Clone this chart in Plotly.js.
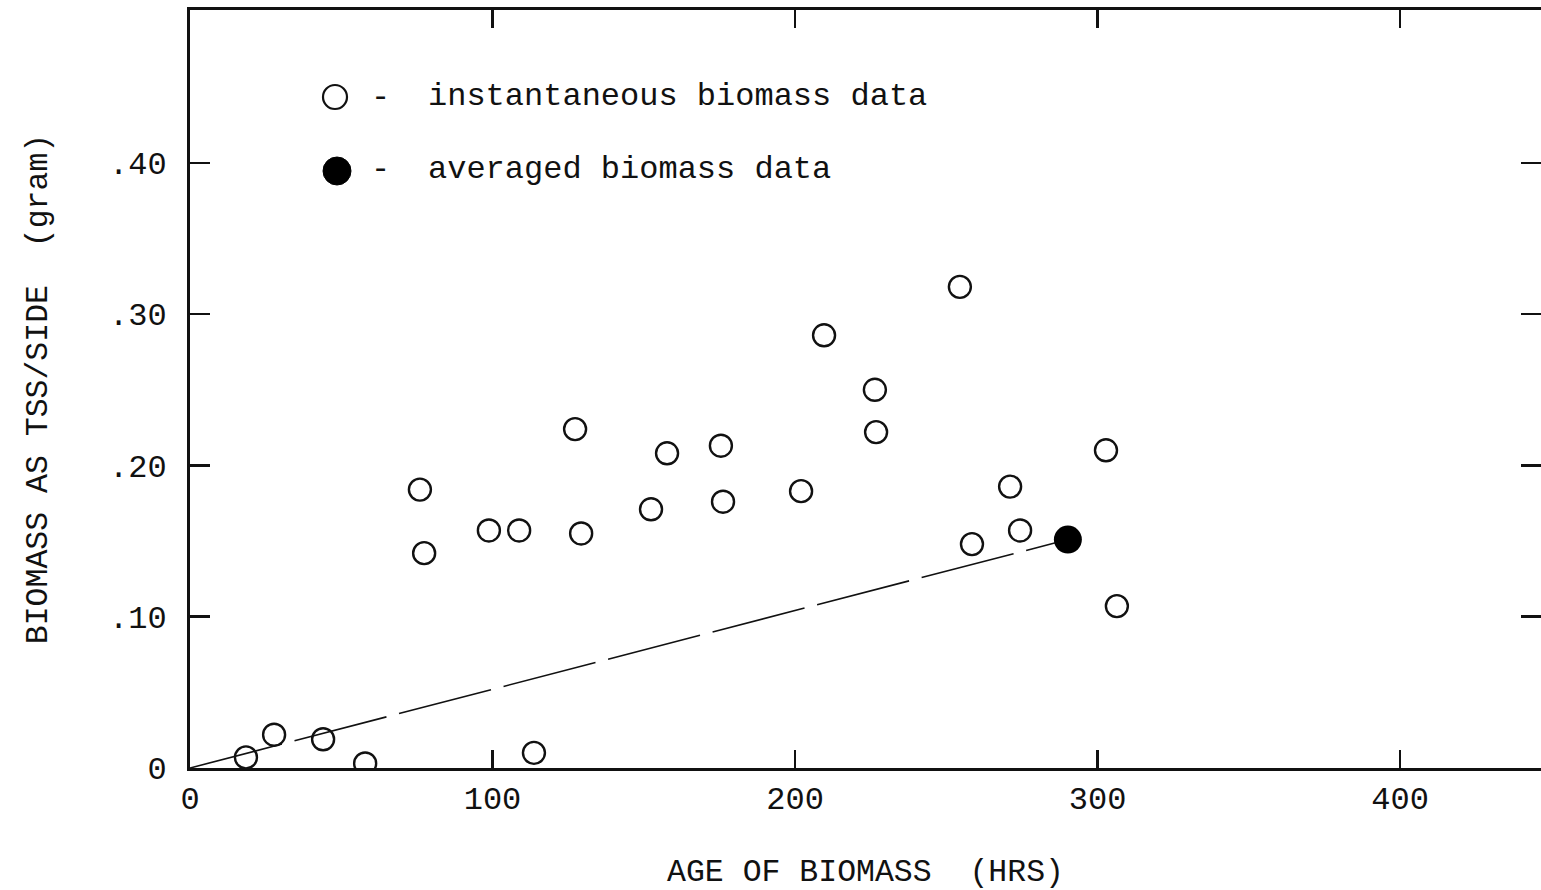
<!DOCTYPE html>
<html>
<head>
<meta charset="utf-8">
<script src="https://cdn.plot.ly/plotly-3.0.1.min.js"></script>
<style>
  html, body { margin: 0; padding: 0; background: #fff; }
  #chart { width: 1541px; height: 890px; }
</style>
</head>
<body>
<div id="chart"></div>
<script>
// Instantaneous biomass data (open circles)
const ageInstant = [18.5, 27.8, 44.0, 57.9, 76.0, 77.4, 98.8, 108.8, 113.7, 127.3, 129.3, 152.4, 157.7, 175.5, 176.2, 202.0, 209.6, 226.4, 226.8, 254.5, 258.5, 271.1, 274.4, 302.8, 306.4];
const biomassInstant = [0.007, 0.022, 0.019, 0.003, 0.184, 0.142, 0.157, 0.157, 0.010, 0.224, 0.155, 0.171, 0.208, 0.213, 0.176, 0.183, 0.286, 0.250, 0.222, 0.318, 0.148, 0.186, 0.157, 0.210, 0.107];
// Averaged biomass data (filled circle)
const ageAveraged = [290.2];
const biomassAveraged = [0.151];
// Line from origin to averaged point
const lineAge = [0, 290.2];
const lineBiomass = [0, 0.151];
// Tick labels
const xTickVals = [0, 100, 200, 300, 400];
const xTickText = ["0", "100", "200", "300", "400"];
const yTickVals = [0, 0.1, 0.2, 0.3, 0.4];
const yTickText = ["0", ".10", ".20", ".30", ".40"];
const legendLabels = ["instantaneous biomass data", "averaged biomass data"];

const FONT = "Liberation Mono, Courier New, monospace";
const NB = "\u00a0";

const traces = [
  {
    x: lineAge, y: lineBiomass, mode: "lines", type: "scatter",
    line: { color: "#111", width: 1.6, dash: "95px,13px" },
    hoverinfo: "skip", showlegend: false
  },
  {
    x: ageInstant, y: biomassInstant, mode: "markers", type: "scatter",
    name: legendLabels[0],
    marker: { symbol: "circle-open", size: 22, color: "#111", line: { width: 2.4, color: "#111" } },
    showlegend: false
  },
  {
    x: ageAveraged, y: biomassAveraged, mode: "markers", type: "scatter",
    name: legendLabels[1],
    marker: { symbol: "circle", size: 28, color: "#000" },
    showlegend: false
  }
];

function px2paperX(px) { return (px - 190) / 1351; }
function px2paperY(py) { return (768 - py) / 758; }

const layout = {
  width: 1541, height: 890,
  margin: { l: 190, r: 0, t: 10, b: 122, pad: 0 },
  paper_bgcolor: "#fff", plot_bgcolor: "#fff",
  font: { family: FONT, color: "#111", size: 31 },
  showlegend: false,
  xaxis: {
    range: [0, 446.6],
    tickmode: "array", tickvals: xTickVals, ticktext: xTickText,
    ticks: "inside", ticklen: 18, tickwidth: 2.5, tickcolor: "#111",
    showline: true, linewidth: 3, linecolor: "#111", mirror: "ticks",
    showgrid: false, zeroline: false,
    tickfont: { family: FONT, size: 32, color: "#111" },
    title: { text: "AGE OF BIOMASS" + NB + NB + "(HRS)", font: { family: FONT, size: 31.5, color: "#111" }, standoff: 44 }
  },
  yaxis: {
    range: [0, 0.501],
    tickmode: "array", tickvals: yTickVals, ticktext: yTickText,
    ticks: "inside", ticklen: 20, tickwidth: 2.5, tickcolor: "#111",
    showline: true, linewidth: 3, linecolor: "#111", mirror: "ticks",
    showgrid: false, zeroline: false,
    tickfont: { family: FONT, size: 32, color: "#111" },
    ticklabelstandoff: 14,
    title: { text: "BIOMASS AS TSS/SIDE" + NB + NB + "(gram)", font: { family: FONT, size: 31.5, color: "#111" }, standoff: 52 }
  },
  shapes: [
    { type: "circle", xref: "paper", yref: "paper", xsizemode: "pixel", ysizemode: "pixel",
      xanchor: px2paperX(335), yanchor: px2paperY(97), x0: -12, x1: 12, y0: -12, y1: 12,
      line: { color: "#111", width: 2.2 }, fillcolor: "rgba(0,0,0,0)" },
    { type: "circle", xref: "paper", yref: "paper", xsizemode: "pixel", ysizemode: "pixel",
      xanchor: px2paperX(337), yanchor: px2paperY(171), x0: -14, x1: 14, y0: -14, y1: 14,
      line: { color: "#000", width: 1 }, fillcolor: "#000" }
  ],
  annotations: [
    { xref: "paper", yref: "paper", x: px2paperX(380), y: px2paperY(97), text: "-", showarrow: false,
      xanchor: "center", yanchor: "middle", font: { family: FONT, size: 32, color: "#111" } },
    { xref: "paper", yref: "paper", x: px2paperX(380), y: px2paperY(170), text: "-", showarrow: false,
      xanchor: "center", yanchor: "middle", font: { family: FONT, size: 32, color: "#111" } },
    { xref: "paper", yref: "paper", x: px2paperX(426), y: px2paperY(96), text: legendLabels[0], showarrow: false,
      xanchor: "left", yanchor: "middle", font: { family: FONT, size: 32, color: "#111" } },
    { xref: "paper", yref: "paper", x: px2paperX(426), y: px2paperY(169), text: legendLabels[1], showarrow: false,
      xanchor: "left", yanchor: "middle", font: { family: FONT, size: 32, color: "#111" } }
  ]
};

Plotly.newPlot("chart", traces, layout, { staticPlot: true, displayModeBar: false });
</script>
</body>
</html>
